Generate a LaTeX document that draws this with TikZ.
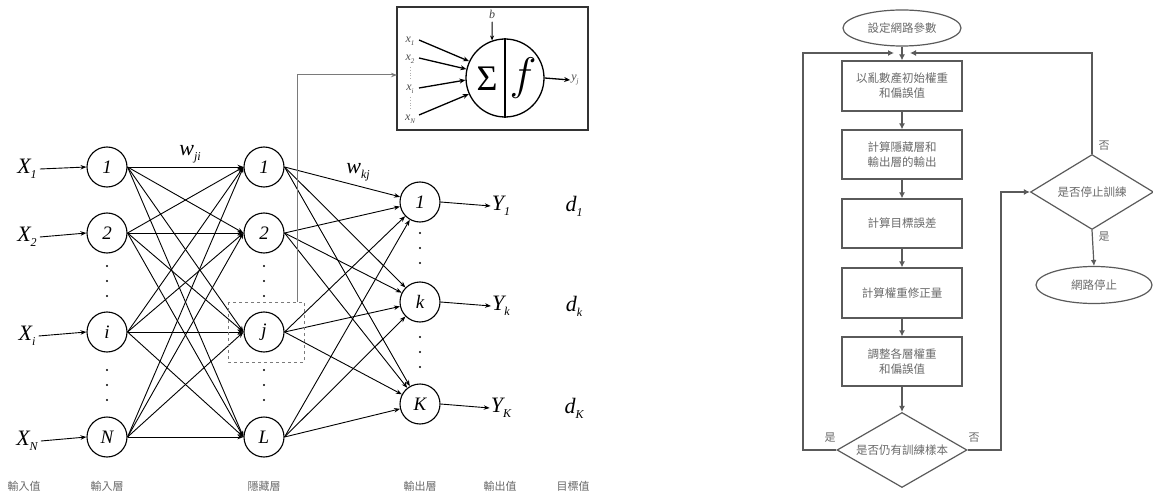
\documentclass[tikz,border=0pt]{standalone}
\usepackage{fontspec}
\setmainfont{Liberation Serif}
\newfontfamily\cjk{Noto Sans CJK TC}
\usetikzlibrary{arrows.meta,shapes.geometric}
\definecolor{fgray}{HTML}{5A5A5A}
\definecolor{tgray}{HTML}{6A6A6A}
\definecolor{lgray}{HTML}{7A7A7A}
\newcommand\bigsub[2]{{\fontsize{22}{22}\selectfont\itshape #1\raisebox{-5pt}{\fontsize{12}{12}\selectfont #2}}}
\newcommand\smsub[2]{{\fontsize{12}{12}\selectfont\itshape #1\raisebox{-3pt}{\fontsize{7}{7}\selectfont #2}}}
\begin{document}
\begin{tikzpicture}[x=1pt,y=-1pt,
  neu/.style={circle,draw,line width=1.1pt,minimum size=40pt,inner sep=0pt,font=\fontsize{19}{19}\selectfont\itshape},
  conn/.style={line width=0.9pt,-{Stealth[length=6pt,width=4.5pt]}},
  lab/.style={inner sep=1pt},
  captxt/.style={font=\cjk\fontsize{11}{11}\selectfont,text=tgray},
  dotc/.style={fill,circle,inner sep=0pt,minimum size=2.4pt},
  fbox/.style={draw=fgray,line width=1.2pt,minimum width=120pt,text=tgray,font=\cjk\fontsize{11.5}{15}\selectfont,align=center,inner sep=0pt},
  fell/.style={ellipse,draw=fgray,line width=1.2pt,text=tgray,font=\cjk\fontsize{11.5}{15}\selectfont,inner sep=0pt},
  fdia/.style={diamond,draw=fgray,line width=1.2pt,text=tgray,font=\cjk\fontsize{11.5}{15}\selectfont,inner sep=0pt},
  farr/.style={draw=fgray,line width=1.2pt,-{Latex[length=6pt,width=6pt]}},
  yn/.style={font=\cjk\fontsize{11}{11}\selectfont,text=tgray},
  small/.style={text=black!70,inner sep=1pt}
]
\useasboundingbox (0,0) rectangle (1153,497);

% ---------------- Neural network ----------------
\node[neu] (i1) at (107,167) {1};
\node[neu] (i2) at (107,233) {2};
\node[neu] (ii) at (107,332) {i};
\node[neu] (iN) at (107,437) {N};
\node[neu] (h1) at (264,167) {1};
\node[neu] (h2) at (264,233) {2};
\node[neu] (hj) at (264,332) {j};
\node[neu] (hL) at (264,437) {L};
\node[neu] (o1) at (420,202) {1};
\node[neu] (ok) at (420,302) {k};
\node[neu] (oK) at (420,404) {K};

\foreach \a in {i1,i2,ii,iN}{
  \foreach \b in {h1,h2,hj,hL}{
    \draw[conn] (\a.east) -- (\b.west);
  }
}
\foreach \a in {h1,h2,hj,hL}{
  \foreach \b in {o1,ok,oK}{
    \draw[conn] (\a.east) -- (\b);
  }
}

% input labels
\node[lab] (X1) at (27,169) {\bigsub{X}{1}};
\node[lab] (X2) at (27,237) {\bigsub{X}{2}};
\node[lab] (Xi) at (27,336) {\bigsub{X}{i}};
\node[lab] (XN) at (27,441) {\bigsub{X}{N}};
\draw[conn] ([xshift=2pt]X1.east) -- (i1.west);
\draw[conn] ([xshift=2pt]X2.east) -- (i2.west);
\draw[conn] ([xshift=2pt]Xi.east) -- (ii.west);
\draw[conn] ([xshift=2pt]XN.east) -- (iN.west);

% output labels
\node[lab] (Y1) at (501,206) {\bigsub{Y}{1}};
\node[lab] (Yk) at (501,306) {\bigsub{Y}{k}};
\node[lab] (YK) at (501,408) {\bigsub{Y}{K}};
\draw[conn] (o1.east) -- (Y1.west);
\draw[conn] (ok.east) -- (Yk.west);
\draw[conn] (oK.east) -- (YK.west);
\node[lab] (d1) at (574,206) {\bigsub{d}{1}};
\node[lab] (dk) at (574,306) {\bigsub{d}{k}};
\node[lab] (dK) at (574,408) {\bigsub{d}{K}};

% weights
\node[lab] (wji) at (190,154) {\bigsub{w}{ji}};
\node[lab] (wkj) at (358,172) {\bigsub{w}{kj}};

% dots
\foreach \x in {107,264}{
  \foreach \y in {266,281,296,370,385,400}{
    \node[dotc] at (\x,\y) {};
  }
}
\foreach \y in {233,248,263,337,352,367}{
  \node[dotc] at (420,\y) {};
}

% dashed box around hidden j
\draw[lgray,dashed,line width=0.9pt] (228,302) rectangle (304,362);
\coordinate (jtop) at (297,302);

% neuron box
\draw[black!80,line width=1.5pt] (397,7) rectangle (588,130);
\coordinate (boxin) at (397,75);
\draw[lgray,line width=1pt,-{Stealth[length=6pt,width=4.5pt]}] (jtop) |- (boxin);

\node[circle,draw,line width=1.3pt,minimum size=78pt,inner sep=0pt] (neuron) at (505,78) {};
\draw[line width=1.3pt] (neuron.north) -- (neuron.south);
\node[font=\fontsize{36}{36}\selectfont] (sig) at (487,79) {Σ};
\node[font=\fontsize{20}{20}\selectfont,scale=2.2,transform shape] (fn) at (523,78) {$f$};
\node[font=\fontsize{12}{12}\selectfont\itshape,text=black!75] (b) at (492,14) {b};
\draw[line width=1pt,-{Stealth[length=5pt,width=4pt]}] (b.south) -- (neuron.109);

\node[small] (x1) at (410,41) {\smsub{x}{1}};
\node[small] (x2) at (410,59) {\smsub{x}{2}};
\node[small] (xi) at (410,89) {\smsub{x}{i}};
\node[small] (xN) at (410,119) {\smsub{x}{N}};
\draw[lgray!60,dotted,line width=0.8pt] (410,67) -- (410,80);
\draw[lgray!60,dotted,line width=0.8pt] (410,97) -- (410,110);
\draw[line width=1.3pt,-{Stealth[length=6pt,width=5pt]}] (419,40) -- (neuron.155);
\draw[line width=1.3pt,-{Stealth[length=6pt,width=5pt]}] (419,58) -- (neuron.167);
\draw[line width=1.3pt,-{Stealth[length=6pt,width=5pt]}] (419,88) -- (neuron.183);
\draw[line width=1.3pt,-{Stealth[length=6pt,width=5pt]}] (419,115) -- (neuron.204);
\node[small] (yj) at (575,80) {\smsub{y}{j}};
\draw[line width=1.3pt,-{Stealth[length=6pt,width=5pt]}] (neuron.east) -- (yj.west);

% bottom captions
\node[captxt] (c1) at (24,486) {輸入值};
\node[captxt] (c2) at (107,486) {輸入層};
\node[captxt] (c3) at (264,486) {隱藏層};
\node[captxt] (c4) at (420,486) {輸出層};
\node[captxt] (c5) at (500,486) {輸出值};
\node[captxt] (c6) at (573,486) {目標值};

% ---------------- Flowchart ----------------
\node[fell,minimum width=118pt,minimum height=36pt] (st) at (902,28) {設定網路參數};
\node[fbox,minimum height=50pt] (b1) at (902,86) {以亂數產初始權重\\和偏誤值};
\node[fbox,minimum height=49pt] (b2) at (902,154.5) {計算隱藏層和\\輸出層的輸出};
\node[fbox,minimum height=49pt] (b3) at (902,223.5) {計算目標誤差};
\node[fbox,minimum height=50pt] (b4) at (902,293) {計算權重修正量};
\node[fbox,minimum height=49pt] (b5) at (902,361.5) {調整各層權重\\和偏誤值};
\node[fdia,aspect=1.73,minimum width=130pt,minimum height=75pt] (q1) at (902,450) {是否仍有訓練樣本};
\node[fdia,aspect=1.64,minimum width=123pt,minimum height=75pt] (q2) at (1092,192) {是否停止訓練};
\node[fell,minimum width=116pt,minimum height=37pt] (en) at (1094,285) {網路停止};

\draw[farr] (st) -- (b1);
\draw[farr] (b1) -- (b2);
\draw[farr] (b2) -- (b3);
\draw[farr] (b3) -- (b4);
\draw[farr] (b4) -- (b5);
\draw[farr] (b5) -- (q1);

\coordinate (topL) at (894,53);
\coordinate (topR) at (910,53);
\coordinate (loopL) at (803,450);
\coordinate (loopR) at (1001,450);
\coordinate (q2top) at (1092,53);
\draw[farr] (q1.west) -- (loopL) |- (topL);
\draw[farr] (q1.east) -- (loopR) |- (q2.west);
\draw[farr] (q2.north) -- (q2top) -- (topR);
\draw[farr] (q2.south) -- (en.north);

\node[yn] (yes1) at (830,438) {是};
\node[yn] (no1) at (974,438) {否};
\node[yn] (no2) at (1104,146) {否};
\node[yn] (yes2) at (1104,237) {是};
\end{tikzpicture}
\end{document}
